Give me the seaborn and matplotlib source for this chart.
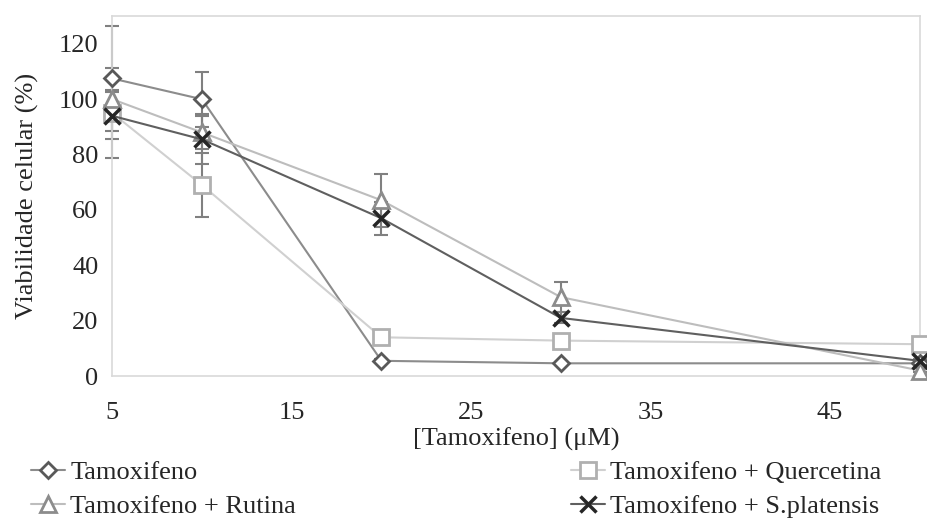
import numpy as np
import pandas as pd
import matplotlib
matplotlib.use("Agg")
import matplotlib.pyplot as plt
import seaborn as sns

# dados
conc = [5, 10, 20, 30, 50]
series = ["Tamoxifeno", "Tamoxifeno + Quercetina", "Tamoxifeno + Rutina", "Tamoxifeno + S.platensis"]
tam = [107.5, 100, 5.5, 4.6, 4.6]
quer = [95, 69, 14, 12.8, 11.5]
rut = [100, 88, 63.5, 28.5, 2]
spl = [94, 85.5, 57, 21, 5.5]
tam_err = [19, 10, 0.5, 0.5, 0.5]
quer_err = [16.4, 11.5, 1, 1, 0.5]
rut_err = [3.3, 6, 9.5, 5.3, 0.5]
spl_err = [8.5, 9, 6, 2, 0.5]

valores = [tam, quer, rut, spl]
erros = [tam_err, quer_err, rut_err, spl_err]

df = pd.DataFrame({
    "conc": conc * 4,
    "serie": [s for s in series for _ in conc],
    "viab": tam + quer + rut + spl,
})

sns.set_style("white")
plt.rcParams["font.family"] = ["Liberation Serif", "DejaVu Serif"]

fig = plt.figure(figsize=(9.28, 5.23), dpi=100)
ax = fig.add_axes([0.121, 0.281, 0.870, 0.688])

line_cols = ["#8c8c8c", "#d0d0d0", "#bdbdbd", "#5f5f5f"]
mk_cols = ["#595959", "#b0b0b0", "#8c8c8c", "#262626"]
markers = ["D", "s", "^", "x"]
msizes = [8, 11, 11, 11]

for i, s in enumerate(series):
    ax.errorbar(conc, valores[i], yerr=erros[i], fmt="none", ecolor="#808080",
                elinewidth=1.5, capsize=5, capthick=1.5, zorder=1, clip_on=False)

for i, s in enumerate(series):
    sub = df[df["serie"] == s]
    if markers[i] == "x":
        sns.lineplot(data=sub, x="conc", y="viab", ax=ax, color=line_cols[i], lw=1.5,
                     marker="x", markersize=msizes[i], markeredgecolor=mk_cols[i],
                     markeredgewidth=2.5, label=s, zorder=3 + i, clip_on=False)
    else:
        sns.lineplot(data=sub, x="conc", y="viab", ax=ax, color=line_cols[i], lw=1.5,
                     marker=markers[i], markersize=msizes[i], markerfacecolor="white",
                     markeredgecolor=mk_cols[i], markeredgewidth=2, label=s,
                     zorder=3 + i, clip_on=False)

ax.set_xlim(5, 50)
ax.set_ylim(0, 130)
ax.set_xticks([5, 15, 25, 35, 45])
ax.set_yticks([0, 20, 40, 60, 80, 100, 120])
ax.tick_params(axis="both", labelsize=19, length=0)
ax.tick_params(axis="x", pad=19)
ax.tick_params(axis="y", pad=10)
ax.set_xlabel("[Tamoxifeno] (\u03bcM)", fontsize=19, labelpad=2)
ax.set_ylabel("Viabilidade celular (%)", fontsize=19, labelpad=14)
for sp in ax.spines.values():
    sp.set_color("#d9d9d9")
    sp.set_linewidth(1.2)

# ordem por linhas: Tamoxifeno / Quercetina, Rutina / S.platensis
h, l = ax.get_legend_handles_labels()
ordem = [0, 2, 1, 3]
ax.legend([h[k] for k in ordem], [l[k] for k in ordem], loc="upper left",
          bbox_to_anchor=(-0.114, -0.205), ncol=2, frameon=False, fontsize=19,
          columnspacing=10.4, handlelength=1.3, handletextpad=0.2, labelspacing=0.42,
          borderaxespad=0)

fig.savefig("out.png", dpi=100)
